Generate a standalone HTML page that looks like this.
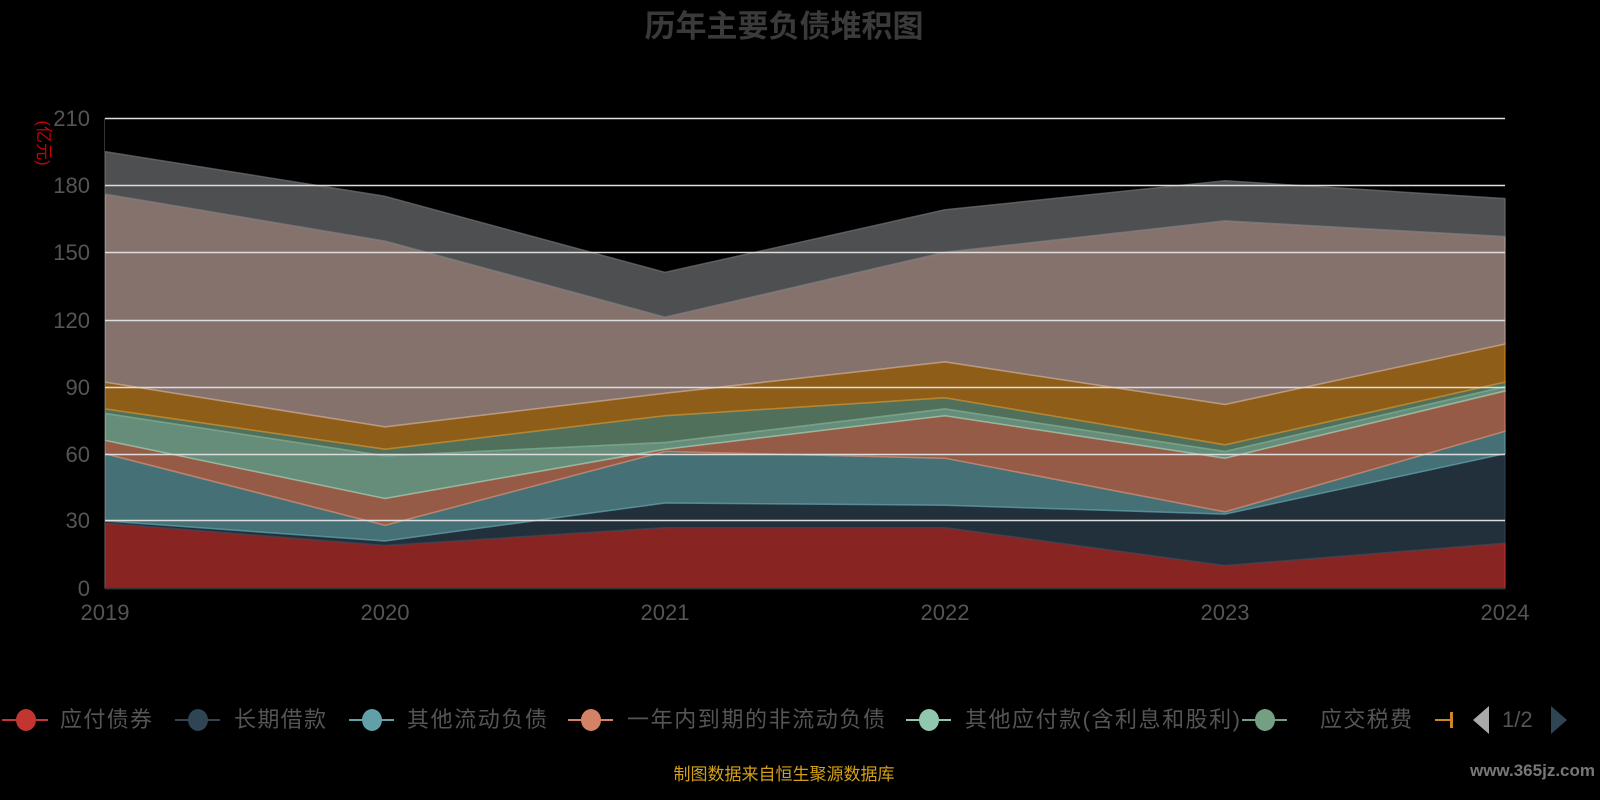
<!DOCTYPE html>
<html><head><meta charset="utf-8"><style>
body{margin:0;background:#000;width:1600px;height:800px;overflow:hidden;font-family:"Liberation Sans","Noto Sans CJK SC",sans-serif}
</style></head><body>
<svg width="1600" height="800" xmlns="http://www.w3.org/2000/svg" style="position:absolute;left:0;top:0">
<text x="784" y="37" text-anchor="middle" font-size="31" font-weight="bold" fill="#3a3a3a" font-family="Liberation Sans, Noto Sans CJK SC, sans-serif">历年主要负债堆积图</text>
<g fill-opacity="0.7" stroke-opacity="0.7" stroke-width="1.5">
<polygon fill="#c23531" stroke="#c23531" points="105,523.1 385,545.5 665,527.6 945,527.6 1225,565.6 1505,543.2 1505,588 105,588"/>
<polygon fill="#2f4554" stroke="#2f4554" points="105,520.9 385,541 665,503 945,505.2 1225,514.1 1505,453.7 1505,543.2 1225,565.6 945,527.6 665,527.6 385,545.5 105,523.1"/>
<polygon fill="#61a0a8" stroke="#61a0a8" points="105,453.7 385,525.3 665,451.5 945,458.2 1225,511.9 1505,431.3 1505,453.7 1225,514.1 945,505.2 665,503 385,541 105,520.9"/>
<polygon fill="#d48265" stroke="#d48265" points="105,440.3 385,498.5 665,449.2 945,415.7 1225,458.2 1505,391 1505,431.3 1225,511.9 945,458.2 665,451.5 385,525.3 105,453.7"/>
<polygon fill="#91c7ae" stroke="#91c7ae" points="105,413.4 385,455.9 665,442.5 945,408.9 1225,451.5 1505,386.6 1505,391 1225,458.2 945,415.7 665,449.2 385,498.5 105,440.3"/>
<polygon fill="#749f83" stroke="#749f83" points="105,408.9 385,449.2 665,415.7 945,397.8 1225,444.8 1505,382.1 1505,386.6 1225,451.5 945,408.9 665,442.5 385,455.9 105,413.4"/>
<polygon fill="#ca8622" stroke="#ca8622" points="105,382.1 385,426.9 665,393.3 945,361.9 1225,404.5 1505,344 1505,382.1 1225,444.8 945,397.8 665,415.7 385,449.2 105,408.9"/>
<polygon fill="#bda29a" stroke="#bda29a" points="105,194.1 385,241.1 665,317.2 945,252.3 1225,220.9 1505,236.6 1505,344 1225,404.5 945,361.9 665,393.3 385,426.9 105,382.1"/>
<polygon fill="#6e7074" stroke="#6e7074" points="105,151.6 385,196.3 665,272.4 945,209.8 1225,180.7 1505,198.6 1505,236.6 1225,220.9 945,252.3 665,317.2 385,241.1 105,194.1"/>
</g>
<g stroke="#ddd" stroke-width="1.5">
<line x1="105" x2="1505" y1="118.5" y2="118.5"/><line x1="105" x2="1505" y1="185.5" y2="185.5"/><line x1="105" x2="1505" y1="252.5" y2="252.5"/><line x1="105" x2="1505" y1="320.5" y2="320.5"/><line x1="105" x2="1505" y1="387.5" y2="387.5"/><line x1="105" x2="1505" y1="454.5" y2="454.5"/><line x1="105" x2="1505" y1="520.5" y2="520.5"/>
</g>
<line x1="105" x2="1505" y1="588.5" y2="588.5" stroke="#333" stroke-width="2"/>
<line x1="104.5" x2="104.5" y1="118" y2="588" stroke="#333" stroke-width="1"/>
<g font-size="22" fill="#555" text-anchor="end" font-family="Liberation Sans, sans-serif">
<text x="90" y="126">210</text><text x="90" y="193">180</text><text x="90" y="260">150</text><text x="90" y="328">120</text><text x="90" y="395">90</text><text x="90" y="462">60</text><text x="90" y="528">30</text><text x="90" y="596">0</text>
</g>
<g font-size="22" fill="#555" text-anchor="middle" font-family="Liberation Sans, sans-serif">
<text x="105" y="620">2019</text><text x="385" y="620">2020</text><text x="665" y="620">2021</text><text x="945" y="620">2022</text><text x="1225" y="620">2023</text><text x="1505" y="620">2024</text>
</g>
<text transform="translate(38,143) rotate(90)" text-anchor="middle" font-size="17" fill="#c00" font-family="Liberation Sans, Noto Sans CJK SC, sans-serif">(亿元)</text>
<g font-size="22" fill="#555" font-family="Liberation Sans, Noto Sans CJK SC, sans-serif">
<line x1="2" x2="48" y1="720" y2="720" stroke="#c23531" stroke-width="2"/><ellipse cx="26" cy="720" rx="10" ry="11" fill="#c23531"/><text x="60" y="727" textLength="92">应付债券</text>
<line x1="175" x2="220" y1="720" y2="720" stroke="#2f4554" stroke-width="2"/><ellipse cx="198" cy="720" rx="10" ry="11" fill="#2f4554"/><text x="234" y="727" textLength="92">长期借款</text>
<line x1="349" x2="394" y1="720" y2="720" stroke="#61a0a8" stroke-width="2"/><ellipse cx="372" cy="720" rx="10" ry="11" fill="#61a0a8"/><text x="407" y="727" textLength="140">其他流动负债</text>
<line x1="568" x2="613" y1="720" y2="720" stroke="#d48265" stroke-width="2"/><ellipse cx="591" cy="720" rx="10" ry="11" fill="#d48265"/><text x="627" y="727" textLength="258">一年内到期的非流动负债</text>
<line x1="906" x2="951" y1="720" y2="720" stroke="#91c7ae" stroke-width="2"/><ellipse cx="929" cy="720" rx="10" ry="11" fill="#91c7ae"/><text x="965" y="727" textLength="275">其他应付款(含利息和股利)</text>
<line x1="1242" x2="1287" y1="720" y2="720" stroke="#749f83" stroke-width="2"/><ellipse cx="1265" cy="720" rx="10" ry="11" fill="#749f83"/><text x="1320" y="727" textLength="92">应交税费</text>
<line x1="1435" x2="1452" y1="720" y2="720" stroke="#ca8622" stroke-width="2"/><rect x="1450" y="712" width="3" height="16" fill="#ca8622"/>
<polygon points="1489,706 1489,734 1473,720" fill="#aaa"/><text x="1502" y="727">1/2</text><polygon points="1551,706 1551,734 1567,720" fill="#2f4554"/>
</g>
<text x="784" y="780" text-anchor="middle" font-size="17" fill="#d4a017" font-family="Liberation Sans, Noto Sans CJK SC, sans-serif">制图数据来自恒生聚源数据库</text>
<text x="1595" y="776" text-anchor="end" font-size="17" font-weight="bold" fill="#777" font-family="Liberation Sans, sans-serif">www.365jz.com</text>
</svg>
</body></html>
